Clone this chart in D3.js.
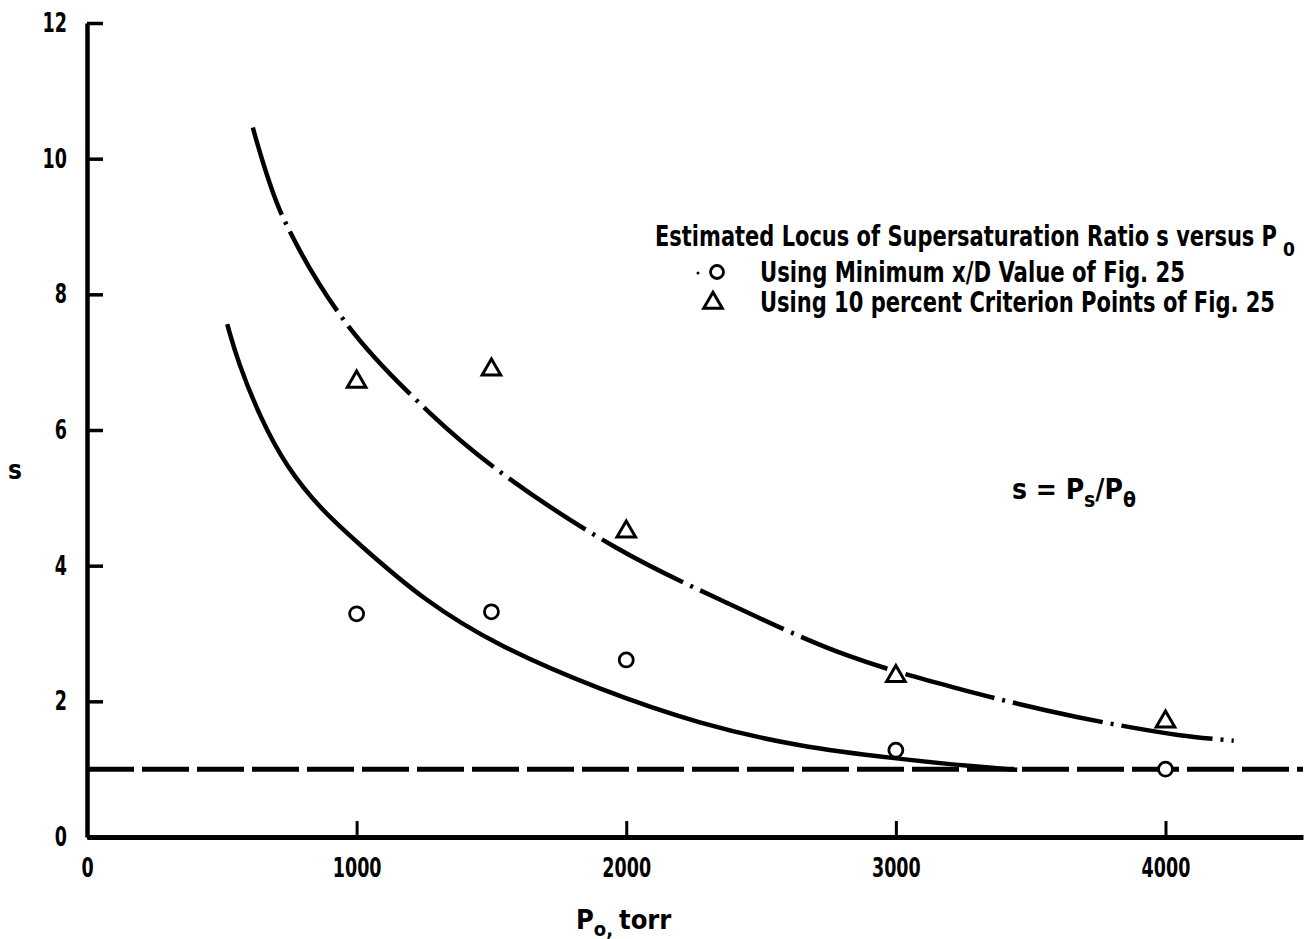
<!DOCTYPE html>
<html>
<head>
<meta charset="utf-8">
<script src="https://cdn.jsdelivr.net/npm/d3@7"></script>
<style>
  html, body { margin: 0; padding: 0; background: #fff; }
  svg { display: block; }
  text { font-family: "Liberation Sans Narrow", "DejaVu Sans Condensed", "Arial Narrow", sans-serif; font-weight: bold; fill: #000; }
</style>
</head>
<body>
<svg id="chart" width="1307" height="939"></svg>
<script>
// ---- data ----
const xTicks = [0, 1000, 2000, 3000, 4000];
const yTicks = [0, 2, 4, 6, 8, 10, 12];

// Open circles: "Using Minimum x/D Value of Fig. 25"
const circleP = [1000, 1500, 2000, 3000, 4000];
const circleS = [3.29, 3.32, 2.61, 1.28, 1.00];

// Open triangles: "Using 10 percent Criterion Points of Fig. 25"
const triP = [1000, 1500, 2000, 3000, 4000];
const triS = [6.71, 6.89, 4.50, 2.37, 1.70];

// Solid curve (locus from circles)
const solidP = [520, 560, 640, 740, 870, 1000, 1250, 1531, 1902, 2273, 2644, 2989, 3311, 3450];
const solidS = [7.56, 7.00, 6.20, 5.45, 4.82, 4.35, 3.48, 2.80, 2.17, 1.66, 1.33, 1.16, 1.03, 0.99];

// Dash-dot curve (locus from triangles)
const dashDotP = [615, 723, 960, 1272, 1557, 1965, 2347, 2818, 3248, 3671, 4053, 4253];
const dashDotS = [10.46, 9.17, 7.58, 6.25, 5.31, 4.26, 3.50, 2.68, 2.17, 1.77, 1.50, 1.42];

// Saturation line s = 1
const satP = [0, 4510];
const satS = [1, 1];

// ---- drawing ----
const svg = d3.select("#chart");
const x = d3.scaleLinear().domain([0, 4510]).range([87, 1303]);
const y = d3.scaleLinear().domain([0, 12]).range([837, 23]);

const zip = (a, b) => a.map((v, i) => [v, b[i]]);
const line = d3.line().x(d => x(d[0])).y(d => y(d[1]));
const smooth = d3.line().x(d => x(d[0])).y(d => y(d[1])).curve(d3.curveCatmullRom.alpha(0.5));
const basis = d3.line().x(d => x(d[0])).y(d => y(d[1])).curve(d3.curveBasis);

const tickFont = "'Liberation Sans Narrow', 'DejaVu Sans Condensed', sans-serif";

// Axes
const yAxis = d3.axisLeft(y).tickValues(yTicks).tickSizeInner(-16).tickSizeOuter(0).tickPadding(20)
  .tickFormat(d3.format("d"));
const gy = svg.append("g").attr("transform", `translate(${x(0)},0)`).call(yAxis);
gy.select(".domain").attr("stroke", "#000").attr("stroke-width", 4.5);
gy.selectAll(".tick line").attr("stroke", "#000").attr("stroke-width", 3.5);

const xAxis = d3.axisBottom(x).tickValues(xTicks).tickSizeInner(-16).tickSizeOuter(0).tickPadding(21)
  .tickFormat(d3.format("d"));
const gx = svg.append("g").attr("transform", `translate(0,${y(0)})`).call(xAxis);
gx.select(".domain").attr("stroke", "#000").attr("stroke-width", 5);
gx.selectAll(".tick line").attr("stroke", "#000").attr("stroke-width", 3)
  .attr("display", d => d === 0 ? "none" : null);

svg.selectAll(".tick text")
  .attr("font-family", null).attr("font-size", null)
  .style("font-family", tickFont).style("font-weight", "bold").style("font-size", "27px")
  .attr("textLength", function() { return this.textContent.length * 12.2; })
  .attr("lengthAdjust", "spacingAndGlyphs");

// Horizontal dashed line s = 1
svg.append("path").datum(zip(satP, satS)).attr("d", line)
  .attr("fill", "none").attr("stroke", "#000").attr("stroke-width", 5)
  .attr("stroke-dasharray", "47 8");

// Solid curve
svg.append("path").datum(zip(solidP, solidS)).attr("d", basis)
  .attr("fill", "none").attr("stroke", "#000").attr("stroke-width", 4.5);

// Dash-dot curve
svg.append("path").datum(zip(dashDotP, dashDotS)).attr("d", smooth)
  .attr("fill", "none").attr("stroke", "#000").attr("stroke-width", 4.5)
  .attr("stroke-dasharray", "92 8 3 8");

// Markers
svg.append("g").selectAll("circle").data(zip(circleP, circleS)).join("circle")
  .attr("cx", d => x(d[0])).attr("cy", d => y(d[1])).attr("r", 7)
  .attr("fill", "#fff").attr("stroke", "#000").attr("stroke-width", 2.8);

const triSym = d3.symbol().type(d3.symbolTriangle).size(150);
svg.append("g").selectAll("path").data(zip(triP, triS)).join("path")
  .attr("d", triSym).attr("transform", d => `translate(${x(d[0])},${y(d[1])})`)
  .attr("fill", "#fff").attr("stroke", "#000").attr("stroke-width", 3);

// Legend
const lg = svg.append("g");
lg.append("text").attr("x", 655).attr("y", 246).attr("font-size", 28)
  .attr("textLength", 622).attr("lengthAdjust", "spacingAndGlyphs")
  .text("Estimated Locus of Supersaturation Ratio s versus P");
lg.append("text").attr("x", 1283).attr("y", 256).attr("font-size", 19).text("0");

lg.append("circle").attr("cx", 717).attr("cy", 272).attr("r", 6.5)
  .attr("fill", "#fff").attr("stroke", "#000").attr("stroke-width", 2.8);
lg.append("circle").attr("cx", 698).attr("cy", 273).attr("r", 1.5).attr("fill", "#000");
lg.append("text").attr("x", 760).attr("y", 282).attr("font-size", 28)
  .attr("textLength", 425).attr("lengthAdjust", "spacingAndGlyphs")
  .text("Using Minimum x/D Value of Fig. 25");

lg.append("path").attr("d", triSym).attr("transform", "translate(713,303)")
  .attr("fill", "#fff").attr("stroke", "#000").attr("stroke-width", 3);
lg.append("text").attr("x", 760).attr("y", 312).attr("font-size", 28)
  .attr("textLength", 515).attr("lengthAdjust", "spacingAndGlyphs")
  .text("Using 10 percent Criterion Points of Fig. 25");

// Formula
const f = svg.append("text").attr("x", 1012).attr("y", 499).attr("font-size", 28);
f.append("tspan").text("s = P");
f.append("tspan").attr("dy", 8).attr("font-size", 21).text("s");
f.append("tspan").attr("dy", -8).text("/P");
f.append("tspan").attr("dy", 8).attr("font-size", 21).text("θ");

// Axis titles
const xl = svg.append("text").attr("x", 576).attr("y", 929).attr("font-size", 27);
xl.append("tspan").text("P");
xl.append("tspan").attr("dy", 7).attr("font-size", 20).text("o,");
xl.append("tspan").attr("dy", -7).attr("dx", 6).text("torr");

svg.append("text").attr("x", 8).attr("y", 479).attr("font-size", 26).text("s");
</script>
</body>
</html>
